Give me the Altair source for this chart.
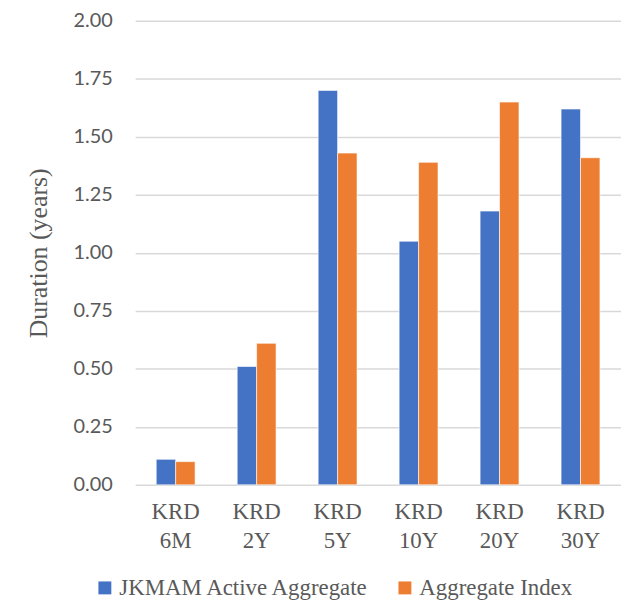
import altair as alt
import pandas as pd

categories = ["KRD 6M", "KRD 2Y", "KRD 5Y", "KRD 10Y", "KRD 20Y", "KRD 30Y"]
series_names = ["JKMAM Active Aggregate", "Aggregate Index"]
active = [0.11, 0.51, 1.70, 1.05, 1.18, 1.62]
index_vals = [0.10, 0.61, 1.43, 1.39, 1.65, 1.41]
y_ticks = [0, 0.25, 0.5, 0.75, 1.0, 1.25, 1.5, 1.75, 2.0]
colors = ["#4472C4", "#ED7D31"]

rows = []
for c, a, b in zip(categories, active, index_vals):
    rows.append({"cat": c, "series": series_names[0], "value": a})
    rows.append({"cat": c, "series": series_names[1], "value": b})
df = pd.DataFrame(rows)

serif = "Liberation Serif"
sans = "Lato"

chart = alt.Chart(df).mark_bar(stroke="white", strokeWidth=0.6).encode(
    x=alt.X("cat:N", sort=categories,
            scale=alt.Scale(paddingInner=0.52, paddingOuter=0.26),
            axis=alt.Axis(title=None, labelAngle=0, labelFont=serif, labelFontSize=23,
                          labelColor="#595959", labelExpr="split(datum.label, ' ')",
                          labelLineHeight=29, labelPadding=16, ticks=False, domain=False)),
    xOffset=alt.XOffset("series:N", sort=series_names),
    y=alt.Y("value:Q", scale=alt.Scale(domain=[0, 2]),
            axis=alt.Axis(title="Duration (years)", values=y_ticks, format=".2f",
                          titleFont=serif, titleFontSize=26, titleFontWeight="normal",
                          titleColor="#595959", titlePadding=22,
                          labelFont=sans, labelFontSize=20, labelColor="#595959",
                          labelPadding=23, ticks=False, domain=False,
                          gridColor="#D9D9D9", gridWidth=1.5)),
    color=alt.Color("series:N", sort=series_names,
                    scale=alt.Scale(domain=series_names, range=colors),
                    legend=alt.Legend(title=None, orient="none", direction="horizontal",
                                      legendX=-42, legendY=559, symbolType="square",
                                      symbolSize=169, symbolStrokeWidth=0,
                                      labelFont=serif, labelFontSize=23, labelLimit=0,
                                      labelColor="#595959", columnPadding=24,
                                      labelOffset=3)),
).properties(
    width=489, height=467,
    autosize=alt.AutoSizeParams(type="none"),
    padding={"left": 128, "top": 11, "right": 0, "bottom": 116},
).configure_view(stroke=None)

chart.save("out.html", embed_options={"renderer": "svg", "actions": False})
